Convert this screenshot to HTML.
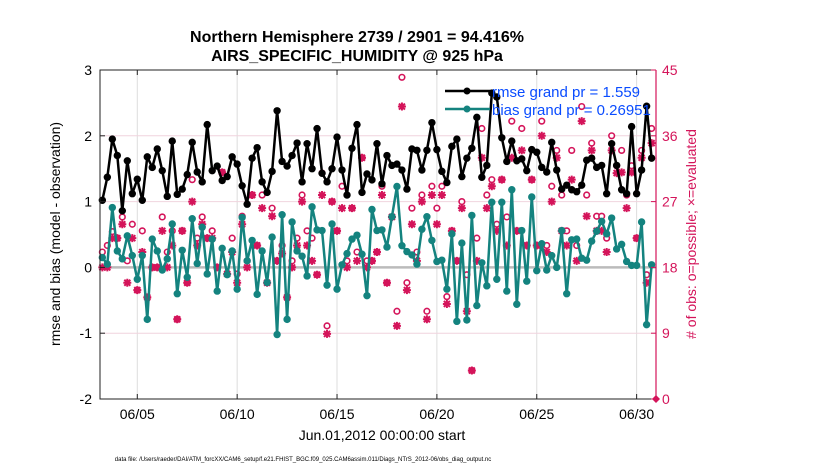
<!DOCTYPE html>
<html><head><meta charset="utf-8"><style>
body{margin:0;background:#fff;}
svg{display:block;font-family:"Liberation Sans",Arial,sans-serif;}
</style></head><body>
<svg id="chart" width="830" height="470" viewBox="0 0 830 470" xmlns="http://www.w3.org/2000/svg">
<rect width="830" height="470" fill="#fff"/>
<g id="grid"></g>
<g id="marks"></g>
<g id="axes"></g>
<text x="357" y="42" text-anchor="middle" font-size="16" font-weight="bold">Northern Hemisphere 2739 / 2901 = 94.416%</text>
<text x="357" y="61" text-anchor="middle" font-size="16" font-weight="bold">AIRS_SPECIFIC_HUMIDITY @ 925 hPa</text>
<text transform="translate(60,234) rotate(-90)" text-anchor="middle" font-size="14">rmse and bias (model - observation)</text>
<text transform="translate(696,234) rotate(-90)" text-anchor="middle" font-size="14" fill="#d4145a">#  of obs: o=possible; ×=evaluated</text>
<text x="382" y="440" text-anchor="middle" font-size="14">Jun.01,2012 00:00:00 start</text>
<text x="303" y="461" text-anchor="middle" font-size="6">data file: /Users/raeder/DAI/ATM_forcXX/CAM6_setup/f.e21.FHIST_BGC.f09_025.CAM6assim.011/Diags_NTrS_2012-06/obs_diag_output.nc</text>
<g>
<line x1="445" y1="91" x2="490" y2="91" stroke="#000" stroke-width="2.5"/><circle cx="467" cy="91" r="3.5" fill="#000"/>
<text x="492" y="97" font-size="15" fill="#0a4cff">rmse grand pr = 1.559</text>
<line x1="445" y1="109" x2="490" y2="109" stroke="#14837f" stroke-width="2.5"/><circle cx="467" cy="109" r="3.5" fill="#14837f"/>
<text x="492" y="115" font-size="15" fill="#0a4cff">bias grand pr = 0.26951</text>
</g>
</svg>
<script>
const rmse=[1.02,1.37,1.95,1.70,0.86,1.62,1.12,1.34,1.02,1.68,1.52,1.80,1.47,1.08,1.92,1.11,1.19,1.41,1.90,1.45,1.30,2.17,1.47,1.54,1.32,1.38,1.68,1.57,
1.24,0.96,1.66,1.82,1.30,1.14,1.46,2.38,1.61,1.54,1.70,1.89,1.30,1.88,1.50,2.11,1.43,1.30,1.50,1.98,1.48,1.10,1.81,2.17,1.14,1.42,1.33,1.88,
1.27,1.70,1.55,1.57,1.48,1.19,1.80,1.78,1.48,1.78,2.20,1.79,1.46,1.29,1.84,1.95,1.38,1.66,1.81,2.28,1.37,1.55,2.65,2.59,1.97,1.61,1.92,1.62,
1.65,1.47,1.79,1.75,1.52,1.45,1.90,1.48,1.19,1.25,1.18,1.15,1.25,1.63,1.66,1.52,1.55,1.12,1.88,1.55,1.18,1.12,2.14,1.12,1.48,2.45,1.66];
const bias=[0.15,0.05,0.91,0.25,0.13,0.48,0.18,-0.18,0.18,-0.79,0.43,0.25,-0.04,0.13,0.66,-0.40,0.26,-0.15,0.74,0.06,0.61,-0.10,0.43,-0.36,0.29,-0.11,0.25,-0.33,
0.76,0.10,0.41,-0.41,0.25,-0.23,0.46,-1.02,0.80,-0.79,0.69,0.25,0.17,-0.13,0.92,0.57,0.56,-0.27,0.66,-0.33,0.04,0.21,0.43,0.49,0.20,-0.43,0.88,0.56,
0.57,0.31,0.77,1.23,0.33,0.24,0.19,0.05,0.58,0.77,0.41,0.09,0.11,-0.33,0.51,-0.82,0.37,-0.80,0.79,-0.58,0.07,-0.28,0.99,-0.18,0.99,-0.36,1.18,-0.56,
0.56,-0.21,1.07,-0.05,0.36,-0.04,0.18,0.00,0.56,-0.40,0.42,0.43,0.14,0.11,0.40,0.55,0.70,0.51,0.75,0.28,0.35,0.09,0.03,0.03,0.69,-0.87,0.04];
const nPossible=[20.1,21,22.9,22,24.9,18.9,23.9,14.9,23,13.9,18,18,24.9,20.1,23,10.9,23,15.9,30,22,24.9,22,23,18,31,17.1,22,17.1,
25,18.9,27.9,21,27.9,15.9,26.1,18.9,21,13.9,18.9,22,27.9,23,22,17,30.9,10,27,23,29.1,18.9,26.1,20.1,33,18.9,18.9,20.1,
29.1,15.9,24.9,12,44,15.9,26.1,20.1,27.9,12,29.1,26.1,29.1,14,23,18.9,27,17,3.9,22,37,27.9,30,23.9,30,24.9,38,23,
37,21,30,21,38,21,29.1,34,27.9,23,34,21,40,27.9,35,25,25,22,36,31.9,34,27.9,31.9,22,34,17,37];
const nEvaluated=[18,18,22,22,23.9,15.9,22,14.9,20.1,13.9,18,18,23,18,21,10.9,23,15.9,27,21,23.9,22,22,18,31,17.1,20.1,15.9,
23.9,18,27.9,21,26.1,15.9,25,18.9,19.9,13.9,18,21,27,21,18.9,17,27.9,8.9,27,23,26.1,18,26.1,18.9,33,18,18.9,20.1,
27.9,15.9,24.9,10,40,14.9,23.9,18.9,27,10.9,27.9,23.9,27.9,13,23,18.9,26.1,12,3.9,18.9,33,26.1,29.1,23,30,21,33,23,
34,21,30,21,36,20.1,27,33,23,21,30,18.9,38,25,34,23,23,20.1,34,30.9,31,26.1,31,22,33,15.9,35];
const startDay=3.25, stepDay=0.25;
const xTickDays=[5,10,15,20,25,30];
const xTickLabels=['06/05','06/10','06/15','06/20','06/25','06/30'];
const yTicks=[-2,-1,0,1,2,3];
const rTicks=[0,9,18,27,36,45];

const L=100,R=656,T=70,B=399;
const xD0=3.133,xD1=30.97;
const X=d=>L+(d-xD0)/(xD1-xD0)*(R-L);
const Y=v=>B-(v+2)/5*(B-T);
const YR=n=>B-n/45*(B-T);
const NS='http://www.w3.org/2000/svg';
function mk(p,tag,at){const e=document.createElementNS(NS,tag);for(const k in at)e.setAttribute(k,at[k]);p.appendChild(e);return e;}
const grid=document.getElementById('grid'),marks=document.getElementById('marks'),axes=document.getElementById('axes');
const MAG='#d4145a',TEAL='#14837f';

xTickDays.forEach(d=>{const g=mk(grid,'line',{x1:X(d),x2:X(d),y1:T,y2:B,stroke:'#ddd','stroke-width':1});

});
rTicks.forEach(n=>{if(n==0||n==45)return;const g=mk(grid,'line',{x1:L,x2:R,y1:YR(n),y2:YR(n),stroke:'#f0d4de','stroke-width':1});

});
const z=mk(grid,'line',{x1:L,x2:R,y1:Y(0),y2:Y(0),stroke:'#bbb','stroke-width':2.5});



const tx=i=>X(startDay+stepDay*i);
nPossible.forEach((n,i)=>{const c=mk(marks,'circle',{cx:tx(i),cy:YR(n),r:2.8,fill:'#fff',stroke:MAG,'stroke-width':1.6});

});
nEvaluated.forEach((n,i)=>{const x=tx(i),y=YR(n),s=4;
const p=mk(marks,'path',{d:`M${x-s},${y}H${x+s}M${x},${y-s}V${y+s}M${x-3},${y-3}L${x+3},${y+3}M${x-3},${y+3}L${x+3},${y-3}`,stroke:MAG,'stroke-width':2});

});
function series(arr,col,name){
const pl=mk(marks,'polyline',{points:arr.map((v,i)=>tx(i)+','+Y(v)).join(' '),fill:'none',stroke:col,'stroke-width':2.5,'stroke-linejoin':'round'});


arr.forEach((v,i)=>{const c=mk(marks,'circle',{cx:tx(i),cy:Y(v),r:3.7,fill:col});

});}
series(bias,TEAL,'bias');
series(rmse,'#000','rmse');

const fr=mk(axes,'path',{d:`M${R},${T}H${L}V${B}H${R}`,fill:'none',stroke:'#222','stroke-width':1});


const ra=mk(axes,'line',{x1:R,x2:R,y1:T,y2:B,stroke:MAG,'stroke-width':1.2});


yTicks.forEach(v=>{mk(axes,'line',{x1:L,x2:L+5,y1:Y(v),y2:Y(v),stroke:'#222'});
const t=mk(axes,'text',{x:L-8,y:Y(v)+5,'text-anchor':'end','font-size':14});t.textContent=v;

});
rTicks.forEach(n=>{mk(axes,'line',{x1:R-5,x2:R,y1:YR(n),y2:YR(n),stroke:MAG});
const t=mk(axes,'text',{x:R+6,y:YR(n)+5,'font-size':14,fill:MAG});t.textContent=n;

});
xTickDays.forEach((d,i)=>{mk(axes,'line',{x1:X(d),x2:X(d),y1:B,y2:B-5,stroke:'#222'});mk(axes,'line',{x1:X(d),x2:X(d),y1:T,y2:T+5,stroke:'#222'});
const t=mk(axes,'text',{x:X(d),y:B+20,'text-anchor':'middle','font-size':14});t.textContent=xTickLabels[i];

});
const dm=mk(axes,'path',{d:`M${R},${B-4}L${R+4},${B}L${R},${B+4}L${R-4},${B}Z`,fill:MAG});


</script>
</body></html>
